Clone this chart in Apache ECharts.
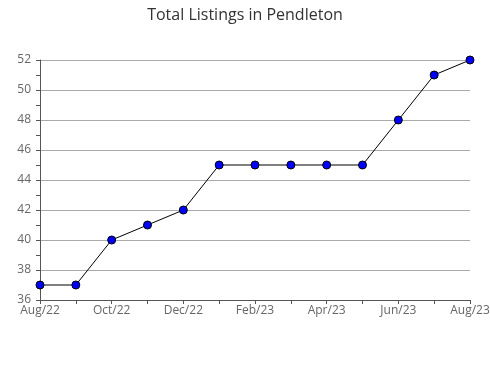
<!DOCTYPE html>
<html>
<head>
<meta charset="utf-8">
<script src="https://cdn.jsdelivr.net/npm/echarts@6/dist/echarts.min.js"></script>
<style>html,body{margin:0;padding:0;background:#fff}#c{width:490px;height:380px}</style>
</head>
<body>
<div id="c"></div>
<script>
const categories = ['Aug/22','Sep/22','Oct/22','Nov/22','Dec/22','Jan/23','Feb/23','Mar/23','Apr/23','May/23','Jun/23','Jul/23','Aug/23'];
const listings = [37,37,40,41,42,45,45,45,45,45,48,51,52];
const yMin = 36, yMax = 52, yStep = 2;

const chart = echarts.init(document.getElementById('c'));
chart.setOption({
  animation: false,
  textStyle: {fontFamily: 'Open Sans'},
  title: {
    text: 'Total Listings in Pendleton',
    left: 'center', top: 2,
    textStyle: {fontSize: 16, fontWeight: 'normal', color: '#333', fontFamily: 'Open Sans'}
  },
  grid: {left: 40, right: 20, top: 60, bottom: 80, containLabel: false, outerBoundsMode: 'none'},
  xAxis: {
    type: 'category',
    data: categories,
    boundaryGap: false,
    axisLine: {lineStyle: {color: '#555', width: 1}},
    axisTick: {show: true, interval: 0, length: 4, lineStyle: {color: '#555'}},
    axisLabel: {interval: 1, color: '#666', fontSize: 12, margin: 5},
    splitLine: {show: false}
  },
  yAxis: {
    type: 'value',
    min: yMin, max: yMax, interval: yStep,
    axisLine: {show: true, lineStyle: {color: '#555', width: 1}},
    axisTick: {show: true, length: 4, lineStyle: {color: '#555'}},
    minorTick: {show: true, splitNumber: 2, length: 4, lineStyle: {color: '#555'}},
    axisLabel: {color: '#666', fontSize: 12, margin: 9},
    splitLine: {show: true, lineStyle: {color: '#aaa', width: 1}}
  },
  series: [{
    type: 'line',
    data: listings,
    symbol: 'circle',
    symbolSize: 8,
    itemStyle: {color: '#0000ff', borderColor: '#000', borderWidth: 1},
    lineStyle: {color: '#000', width: 1}
  }]
});
</script>
</body>
</html>
